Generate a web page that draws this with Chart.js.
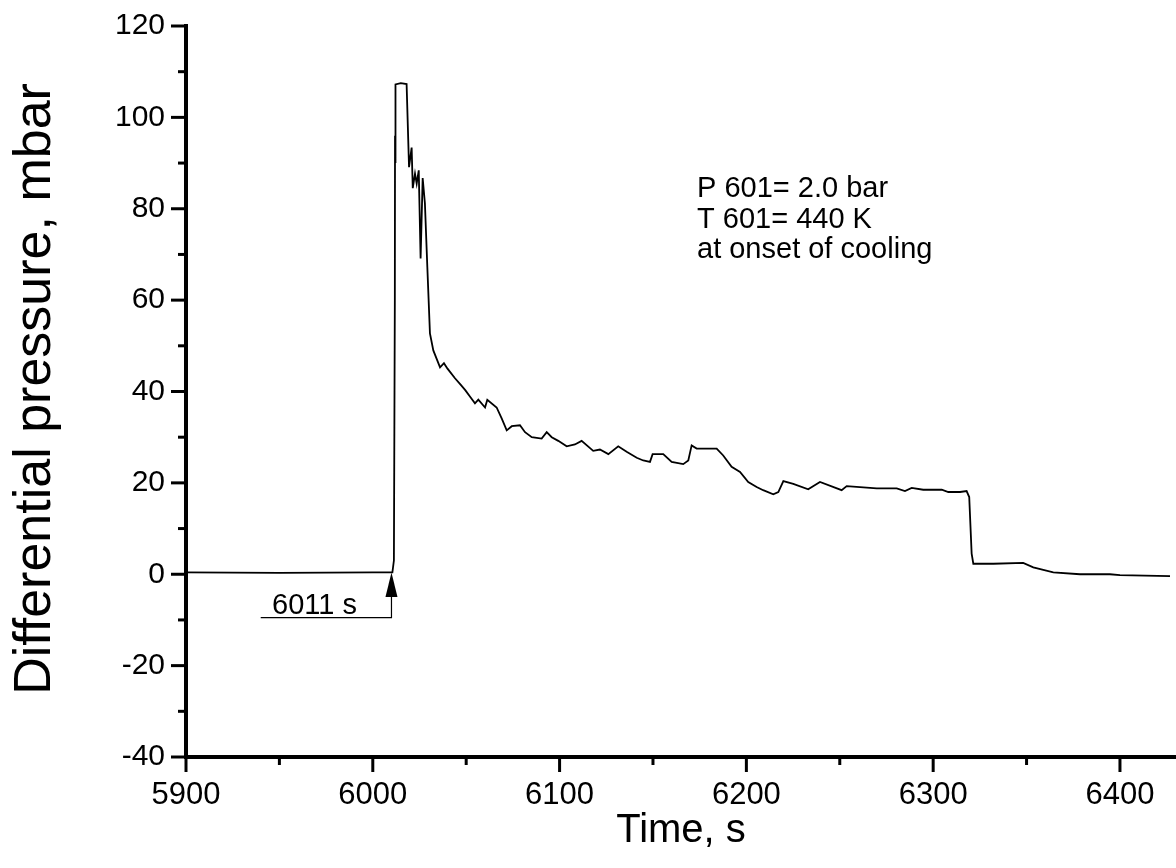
<!DOCTYPE html>
<html>
<head>
<meta charset="utf-8">
<script src="https://cdn.jsdelivr.net/npm/chart.js@4"></script>
<style>
  html, body { margin: 0; padding: 0; background: #fff; }
  #wrap { width: 1176px; height: 868px; }
</style>
</head>
<body>
<div id="wrap"><canvas id="chart"></canvas></div>
<script>
// time axis (s) and differential pressure (mbar)
const timeS = [5900, 5950, 6000, 6010.5, 6011.3, 6011.8, 6011.9, 6012.0, 6012.3, 6015, 6018.1,
  6019.4, 6020.8, 6021.4, 6022.6, 6023.5, 6024.6, 6025.6, 6026.7, 6027.9, 6029.2, 6030.6,
  6032.4, 6036.0, 6038.1, 6040, 6044, 6047, 6049.5, 6052.0, 6054.7, 6056.5, 6060.1, 6061.3,
  6066.3, 6069.0, 6071.7, 6074.4, 6078.8, 6081.5, 6085.1, 6090.4, 6093.1, 6095.8, 6099.3,
  6103.8, 6108.2, 6111.8, 6118.0, 6121.6, 6126.1, 6131.4, 6135.9, 6141.3, 6144.8, 6148.4,
  6149.8, 6155.5, 6160.0, 6166.2, 6168.9, 6170.7, 6173.4, 6184.1, 6187.6, 6192.1, 6196.6,
  6201.0, 6205.5, 6209, 6214.4, 6217.1, 6219.8, 6225.1, 6233.1, 6239.4, 6251.0, 6253.7,
  6269.8, 6280.5, 6284.9, 6288.5, 6294.7, 6304.6, 6308.1, 6314.4, 6317.9, 6319.3, 6320.6,
  6321.5, 6332.2, 6348.2, 6353.6, 6364.3, 6378.6, 6394.6, 6400, 6426.8];
const pressure = [0.4, 0.3, 0.4, 0.4, 3, 60, 96, 90, 107.2, 107.5, 107.3,
  89.1, 93.4, 84.5, 87.7, 85.5, 88.4, 69.1, 86.7, 81.2, 67.2, 52.7,
  49, 45.3, 46.2, 45, 42.9, 41.5, 40.3, 38.9, 37.4, 38.2, 36.5, 38.2,
  36.5, 34.1, 31.5, 32.4, 32.6, 31.1, 30.0, 29.7, 31.1, 30.0, 29.2,
  28.0, 28.4, 29.2, 27.0, 27.3, 26.3, 28.0, 26.8, 25.5, 24.9, 24.6,
  26.3, 26.3, 24.6, 24.1, 24.9, 28.2, 27.5, 27.5, 26.0, 23.5, 22.4,
  20.2, 19.1, 18.4, 17.5, 18.0, 20.4, 19.8, 18.6, 20.2, 18.4, 19.3,
  18.8, 18.8, 18.2, 18.9, 18.5, 18.5, 18.0, 18.0, 18.2, 16.9, 4.5,
  2.3, 2.3, 2.5, 1.5, 0.4, 0.0, 0.0, -0.2, -0.4];

const xMajor = [5900, 6000, 6100, 6200, 6300, 6400];
const xMinor = [5950, 6050, 6150, 6250, 6350];
const yMajor = [-40, -20, 0, 20, 40, 60, 80, 100, 120];
const yMinor = [-30, -10, 10, 30, 50, 70, 90, 110];

const noteLines = ["P 601= 2.0 bar", "T 601= 440 K", "at onset of cooling"];
const onsetTime = 6010;
const onsetLabel = "6011 s";

const FONT = "'Liberation Sans', Arial, sans-serif";

const decor = {
  id: 'decor',
  afterDraw(chart) {
    const ctx = chart.ctx;
    const xs = chart.scales.x, ys = chart.scales.y;
    const area = chart.chartArea;
    ctx.save();
    ctx.strokeStyle = '#000';
    ctx.fillStyle = '#000';
    ctx.lineWidth = 3;
    ctx.lineCap = 'butt';
    // x ticks (outward, downward)
    xMajor.forEach(v => {
      const px = xs.getPixelForValue(v);
      ctx.beginPath(); ctx.moveTo(px, area.bottom); ctx.lineTo(px, area.bottom + 15); ctx.stroke();
    });
    xMinor.forEach(v => {
      const px = xs.getPixelForValue(v);
      ctx.beginPath(); ctx.moveTo(px, area.bottom); ctx.lineTo(px, area.bottom + 8); ctx.stroke();
    });
    // y ticks (outward, left)
    yMajor.forEach(v => {
      const py = ys.getPixelForValue(v);
      ctx.beginPath(); ctx.moveTo(area.left, py); ctx.lineTo(area.left - 15, py); ctx.stroke();
    });
    yMinor.forEach(v => {
      const py = ys.getPixelForValue(v);
      ctx.beginPath(); ctx.moveTo(area.left, py); ctx.lineTo(area.left - 8, py); ctx.stroke();
    });

    // onset arrow
    const ax = xs.getPixelForValue(onsetTime);
    const tipY = ys.getPixelForValue(0.4);
    const headY = ys.getPixelForValue(-5);
    const footY = ys.getPixelForValue(-9.5);
    const leftX = xs.getPixelForValue(5940);
    ctx.lineWidth = 1.2;
    ctx.beginPath();
    ctx.moveTo(leftX, footY); ctx.lineTo(ax, footY); ctx.lineTo(ax, headY);
    ctx.stroke();
    ctx.beginPath();
    ctx.moveTo(ax, tipY); ctx.lineTo(ax - 6, headY); ctx.lineTo(ax + 6, headY); ctx.closePath();
    ctx.fill();
    ctx.font = '29px ' + FONT;
    ctx.textAlign = 'left';
    ctx.textBaseline = 'alphabetic';
    ctx.fillText(onsetLabel, 272, footY - 4);

    // conditions note
    noteLines.forEach((t, i) => ctx.fillText(t, 697, 197 + i * 30.5));

    // axis titles
    ctx.font = '40px ' + FONT;
    ctx.textAlign = 'center';
    ctx.textBaseline = 'middle';
    ctx.fillText('Time, s', (area.left + area.right) / 2, 831);
    ctx.save();
    ctx.font = '52px ' + FONT;
    ctx.translate(36, 389);
    ctx.rotate(-Math.PI / 2);
    ctx.fillText('Differential pressure, mbar', 0, 0);
    ctx.restore();
    ctx.restore();
  }
};

new Chart(document.getElementById('chart'), {
  type: 'line',
  data: {
    datasets: [{
      data: timeS.map((t, i) => ({ x: t, y: pressure[i] })),
      borderColor: '#000',
      borderWidth: 1.8,
      pointRadius: 0,
      tension: 0,
      fill: false
    }]
  },
  options: {
    responsive: true,
    maintainAspectRatio: false,
    animation: false,
    events: [],
    layout: { padding: { top: 26, right: 0, left: 0, bottom: 0 } },
    plugins: { legend: { display: false }, tooltip: { enabled: false } },
    scales: {
      x: {
        type: 'linear',
        min: 5900,
        max: 6430,
        afterFit: s => { s.height = 111; s.paddingLeft = 0; s.paddingRight = 0; },
        grid: { display: false, drawTicks: false },
        border: { display: true, color: '#000', width: 4 },
        ticks: {
          stepSize: 100,
          includeBounds: false,
          padding: 20,
          color: '#000',
          font: { family: FONT, size: 31 },
          callback: v => v
        }
      },
      y: {
        min: -40,
        max: 120,
        afterFit: s => { s.width = 186; s.paddingTop = 0; s.paddingBottom = 0; },
        grid: { display: false, drawTicks: false },
        border: { display: true, color: '#000', width: 4 },
        ticks: {
          stepSize: 20,
          padding: 21,
          color: '#000',
          font: { family: FONT, size: 30 }
        }
      }
    }
  },
  plugins: [decor]
});
</script>
</body>
</html>
